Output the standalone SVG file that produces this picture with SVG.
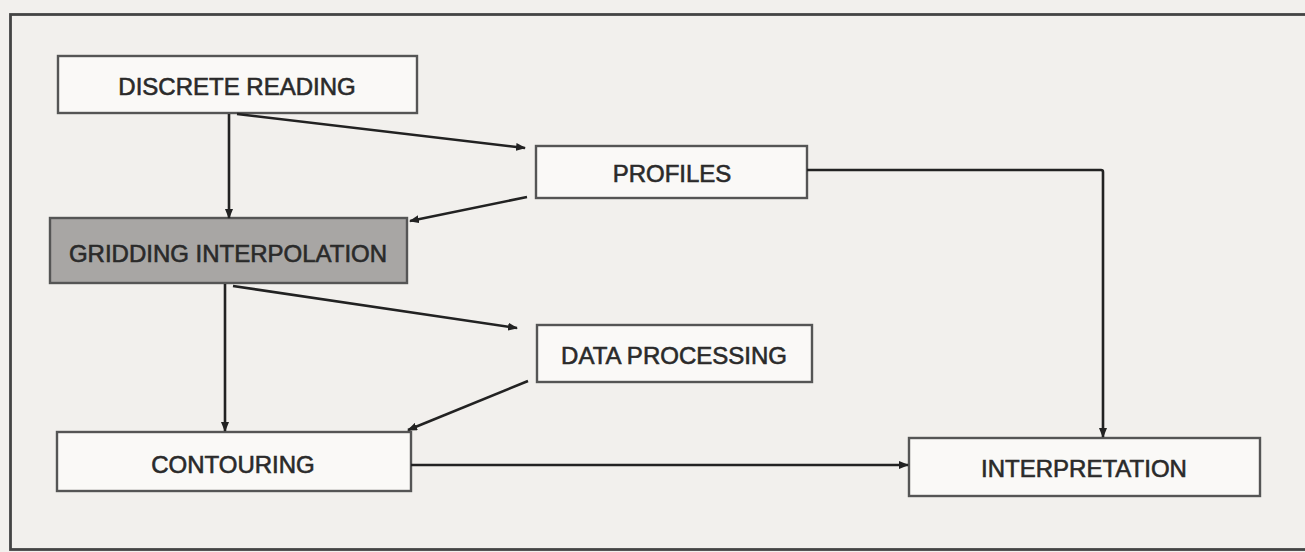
<svg xmlns="http://www.w3.org/2000/svg" width="1305" height="552" viewBox="0 0 1305 552">
  <defs>
    <marker id="ah" viewBox="0 0 10 8" refX="9" refY="4" markerWidth="10" markerHeight="8" markerUnits="userSpaceOnUse" orient="auto">
      <path d="M0,0 L10,4 L0,8 Z" fill="#222"/>
    </marker>
    <style>
      .box { fill: #faf9f7; stroke: #555; stroke-width: 2.4; }
      .shaded { fill: #a8a6a4; stroke: #555; stroke-width: 2.4; }
      .lbl { font-family: "Liberation Sans", Arial, sans-serif; font-size: 24px; fill: #2a2a2a; stroke: #2a2a2a; stroke-width: 0.6; text-anchor: middle; dominant-baseline: central; }
      .conn { fill: none; stroke: #222; stroke-width: 2.6; marker-end: url(#ah); }
    </style>
  </defs>
  <rect x="0" y="0" width="1305" height="552" fill="#f2f0ed"/>
  <rect x="10.5" y="14.5" width="1300" height="535" fill="none" stroke="#444" stroke-width="2.8"/>

  <g id="discrete-reading">
    <rect class="box" x="58" y="56" width="359" height="57"/>
    <text class="lbl" x="237" y="86">DISCRETE READING</text>
  </g>
  <g id="profiles">
    <rect class="box" x="536" y="146" width="271" height="52"/>
    <text class="lbl" x="672" y="173">PROFILES</text>
  </g>
  <g id="gridding-interpolation">
    <rect class="shaded" x="50" y="218" width="357" height="65"/>
    <text class="lbl" x="228" y="253">GRIDDING INTERPOLATION</text>
  </g>
  <g id="data-processing">
    <rect class="box" x="537" y="325" width="275" height="57"/>
    <text class="lbl" x="674" y="355">DATA PROCESSING</text>
  </g>
  <g id="contouring">
    <rect class="box" x="57" y="432" width="354" height="59"/>
    <text class="lbl" x="233" y="464">CONTOURING</text>
  </g>
  <g id="interpretation">
    <rect class="box" x="909" y="438" width="351" height="58"/>
    <text class="lbl" x="1084" y="468">INTERPRETATION</text>
  </g>

  <g id="connectors">
    <path class="conn" d="M229,114 L229,218"/>
    <path class="conn" d="M237,114 L525,148"/>
    <path class="conn" d="M527,197 L410,221"/>
    <path class="conn" d="M225,284 L225,431"/>
    <path class="conn" d="M233,286 L517,328"/>
    <path class="conn" d="M528,381 L408,430"/>
    <path class="conn" d="M807,170 L1101,170 Q1103,170 1103,172 L1103,437"/>
    <path class="conn" d="M411,465 L908,465"/>
  </g>
</svg>
